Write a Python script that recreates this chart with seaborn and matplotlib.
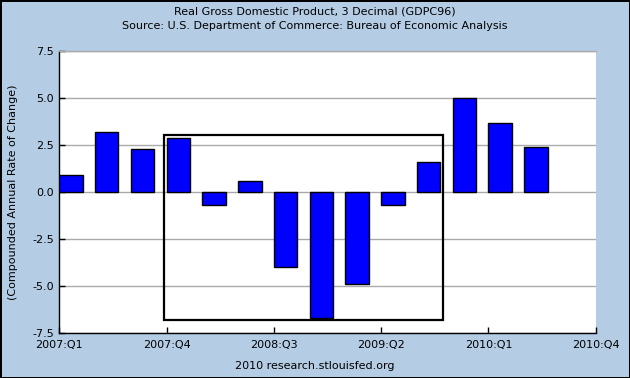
import pandas as pd
import matplotlib
matplotlib.use("Agg")
import matplotlib.pyplot as plt
import matplotlib.patches as mpatches
import seaborn as sns

# quarterly real GDP, compounded annual rate of change
QUARTERS = ["2007:Q1", "2007:Q2", "2007:Q3", "2007:Q4",
            "2008:Q1", "2008:Q2", "2008:Q3", "2008:Q4",
            "2009:Q1", "2009:Q2", "2009:Q3", "2009:Q4",
            "2010:Q1", "2010:Q2"]
GDP_CHANGE = [0.9, 3.2, 2.3, 2.9, -0.7, 0.6, -4.0, -6.7, -4.9, -0.7, 1.6, 5.0, 3.7, 2.4]
TICK_QUARTERS = [0, 3, 6, 9, 12, 15]
TICK_LABELS = ["2007:Q1", "2007:Q4", "2008:Q3", "2009:Q2", "2010:Q1", "2010:Q4"]
Y_TICKS = [-7.5, -5.0, -2.5, 0.0, 2.5, 5.0, 7.5]

BG = "#B4CDE5"
BAR_W = 0.655
OFF = BAR_W / 2  # bars start at the quarter, so shift the quarter ticks


def main():
    sns.set_style("white")
    plt.rcParams["font.family"] = ["DejaVu Sans"]
    plt.rcParams["font.size"] = 8
    plt.rcParams["text.color"] = "black"
    plt.rcParams["axes.labelcolor"] = "black"

    df = pd.DataFrame({"quarter": QUARTERS, "change": GDP_CHANGE})

    fig = plt.figure(figsize=(6.3, 3.78), dpi=100)
    fig.patch.set_facecolor(BG)
    fig.patch.set_edgecolor("black")
    fig.patch.set_linewidth(2)
    ax = fig.add_axes([0.0941, 0.1183, 0.8515, 0.746])
    ax.set_facecolor("white")

    sns.barplot(data=df, x="quarter", y="change", order=QUARTERS, color="#0000FF",
                saturation=1, width=BAR_W, edgecolor="black", linewidth=1.0, ax=ax, zorder=3)

    ax.set_xlim(-OFF, 15 - OFF)
    ax.set_ylim(-7.5, 7.5)
    ax.set_yticks(Y_TICKS)
    ax.set_yticklabels([f"{v:.1f}" for v in Y_TICKS])
    ax.set_xticks([q - OFF for q in TICK_QUARTERS])
    ax.set_xticklabels(TICK_LABELS)
    ax.yaxis.grid(True, color="#AAAAAA", linewidth=1.0, zorder=0)
    ax.set_axisbelow(True)
    ax.tick_params(axis="both", direction="in", length=4, width=1, color="black",
                   labelsize=8, labelcolor="black", pad=4, bottom=True, left=True)
    ax.tick_params(axis="x", pad=5)
    for side in ["left", "bottom"]:
        ax.spines[side].set_color("black")
        ax.spines[side].set_linewidth(1)
    ax.spines["top"].set_color("#AAAAAA")
    ax.spines["top"].set_linewidth(1)
    ax.spines["right"].set_visible(False)
    ax.set_xlabel("")
    ax.set_ylabel("(Compounded Annual Rate of Change)", fontsize=8, labelpad=10, color="black")

    # box drawn around the recession quarters
    box = mpatches.Rectangle((2.93 - OFF, -6.8), 7.8, 9.85, fill=False,
                             edgecolor="black", linewidth=1.6, zorder=4)
    ax.add_patch(box)

    fig.text(0.5, 1 - 12 / 378, "Real Gross Domestic Product, 3 Decimal (GDPC96)",
             ha="center", va="center", fontsize=8, color="black")
    fig.text(0.5, 1 - 26 / 378, "Source: U.S. Department of Commerce: Bureau of Economic Analysis",
             ha="center", va="center", fontsize=8, color="black")
    fig.text(0.5, 1 - 366 / 378, "2010 research.stlouisfed.org",
             ha="center", va="center", fontsize=8, color="black")

    fig.savefig("out.png", dpi=100, facecolor=fig.get_facecolor(), edgecolor="black")


if __name__ == "__main__":
    main()
